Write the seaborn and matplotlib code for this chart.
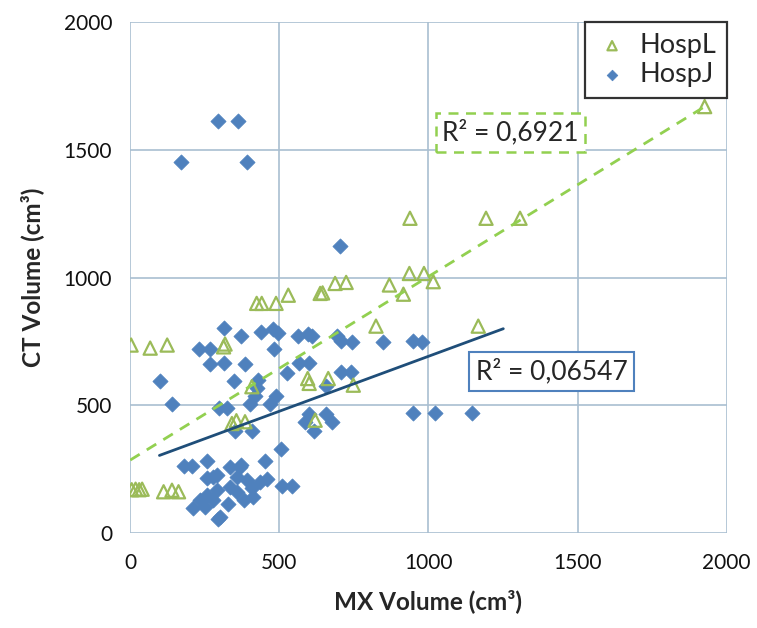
import numpy as np
import pandas as pd
import matplotlib
matplotlib.use("Agg")
import matplotlib.pyplot as plt
import seaborn as sns

# HospL (open green triangles)
hospl_x = [3, 67, 124, 5, 18, 30, 40, 112, 140, 162, 313, 318, 424, 441, 489, 530,
           637, 645, 687, 724, 869, 916, 936, 985, 1016, 824, 1167, 595, 600, 664,
           748, 408, 341, 356, 385, 620, 938, 1193, 1307, 1926]
hospl_y = [736, 724, 736, 170, 172, 170, 172, 162, 168, 162, 729, 740, 899, 899, 899, 931,
           938, 940, 977, 981, 971, 935, 1016, 1016, 984, 810, 810, 605, 586, 605,
           579, 573, 429, 440, 436, 442, 1232, 1232, 1232, 1669]

# HospJ (blue diamonds)
hospj_x = [293, 363, 170, 391, 704,
           315, 372, 437, 479, 495, 481, 231, 267, 268, 313, 384, 561, 597, 610, 692,
           707, 743, 848, 949, 980,
           99, 141, 349, 428, 525, 565, 599, 707, 741, 655, 424, 400, 418, 470, 490,
           299, 326, 352, 410, 587, 600, 617, 656, 677, 948, 1022, 1145,
           504, 451, 510, 543,
           179, 207, 258, 257, 290, 235, 212, 257, 290, 302, 335, 357, 372, 335, 357,
           391, 408, 436, 458, 413, 380, 329, 279, 251, 369, 279, 296]
hospj_y = [1614, 1614, 1451, 1451, 1123,
           801, 770, 786, 798, 785, 720, 720, 720, 662, 665, 660, 770, 781, 770, 770,
           751, 747, 747, 751, 747,
           595, 504, 597, 599, 627, 665, 665, 629, 629, 574, 569, 506, 535, 506, 535,
           490, 489, 398, 401, 434, 468, 401, 468, 436, 471, 471, 471,
           328, 283, 186, 186,
           262, 262, 282, 214, 227, 129, 97, 149, 168, 62, 260, 220, 266, 181, 162,
           207, 175, 201, 210, 142, 129, 116, 129, 103, 260, 220, 57]

# linear trendlines as shown (slope, intercept, x-range)
hospl_fit = [0.718, 286]
hospl_fit_range = [0, 1926]
hospj_fit = [0.43, 262]
hospj_fit_range = [98, 1251]
r2_labels = ["R\u00b2 = 0,6921", "R\u00b2 = 0,06547"]

ticks = [0, 500, 1000, 1500, 2000]

green = "#9bbb59"
green_line = "#92d050"
blue = "#4f81bd"
navy = "#1f4e79"
grid_c = "#a9bfd1"

sns.set_style("white")
plt.rcParams['font.family'] = ['Lato', 'DejaVu Sans']

df_l = pd.DataFrame({"x": hospl_x, "y": hospl_y})
df_j = pd.DataFrame({"x": hospj_x, "y": hospj_y})

def trend(fit, rng):
    xs = np.array(rng, dtype=float)
    return pd.DataFrame({"x": xs, "y": fit[0] * xs + fit[1]})

fig = plt.figure(figsize=(7.57, 6.28), dpi=100)
ax = fig.add_axes([0.172, 0.151, 0.788, 0.814])

sns.scatterplot(data=df_j, x="x", y="y", marker="D", s=60, color=blue,
                edgecolor=blue, linewidth=0.5, label="HospJ", ax=ax, zorder=3)
sns.scatterplot(data=df_l, x="x", y="y", marker="^", s=90, facecolor="none",
                edgecolor=green, linewidth=1.6, label="HospL", ax=ax, zorder=4)

sns.lineplot(data=trend(hospl_fit, hospl_fit_range), x="x", y="y", color=green_line,
             lw=2, linestyle=(0, (4, 3)), ax=ax, legend=False, zorder=5)
sns.lineplot(data=trend(hospj_fit, hospj_fit_range), x="x", y="y", color=navy,
             lw=2, ax=ax, legend=False, zorder=5)

ax.set_xlim(0, 2000)
ax.set_ylim(0, 2000)
ax.set_xticks(ticks)
ax.set_yticks(ticks)
ax.grid(True, color=grid_c, lw=1.2)
for s in ax.spines.values():
    s.set_visible(False)
ax.tick_params(axis="both", length=5, width=1.2, color=grid_c, labelsize=15,
               labelcolor="#111111")
ax.tick_params(axis="y", pad=8)
ax.tick_params(axis="x", pad=9)
ax.set_xlabel("MX Volume (cm\u00b3)", fontsize=17.5, fontweight="bold", labelpad=12)
ax.set_ylabel("CT Volume (cm\u00b3)", fontsize=17.5, fontweight="bold", labelpad=14)

ax.text(1275, 1566, r2_labels[0], fontsize=19, ha="center", va="center", zorder=6,
        bbox=dict(boxstyle="square,pad=0.25", fc="white", ec=green_line, lw=1.8,
                  linestyle=(0, (4, 3))))
ax.text(1414, 634, r2_labels[1], fontsize=19, ha="center", va="center", zorder=6,
        bbox=dict(boxstyle="square,pad=0.25", fc="white", ec=blue, lw=1.5))

h, l = ax.get_legend_handles_labels()
order = [l.index("HospL"), l.index("HospJ")]
leg = ax.legend([h[i] for i in order], [l[i] for i in order], loc="upper right",
                borderaxespad=0, fontsize=19.5, frameon=True, fancybox=False,
                markerscale=0.7, handletextpad=0.4, handlelength=1.2,
                borderpad=0.4, labelspacing=0.15)
leg.get_frame().set_edgecolor("black")
leg.get_frame().set_linewidth(1.6)
leg.set_zorder(10)

fig.savefig("out.png", dpi=100)
